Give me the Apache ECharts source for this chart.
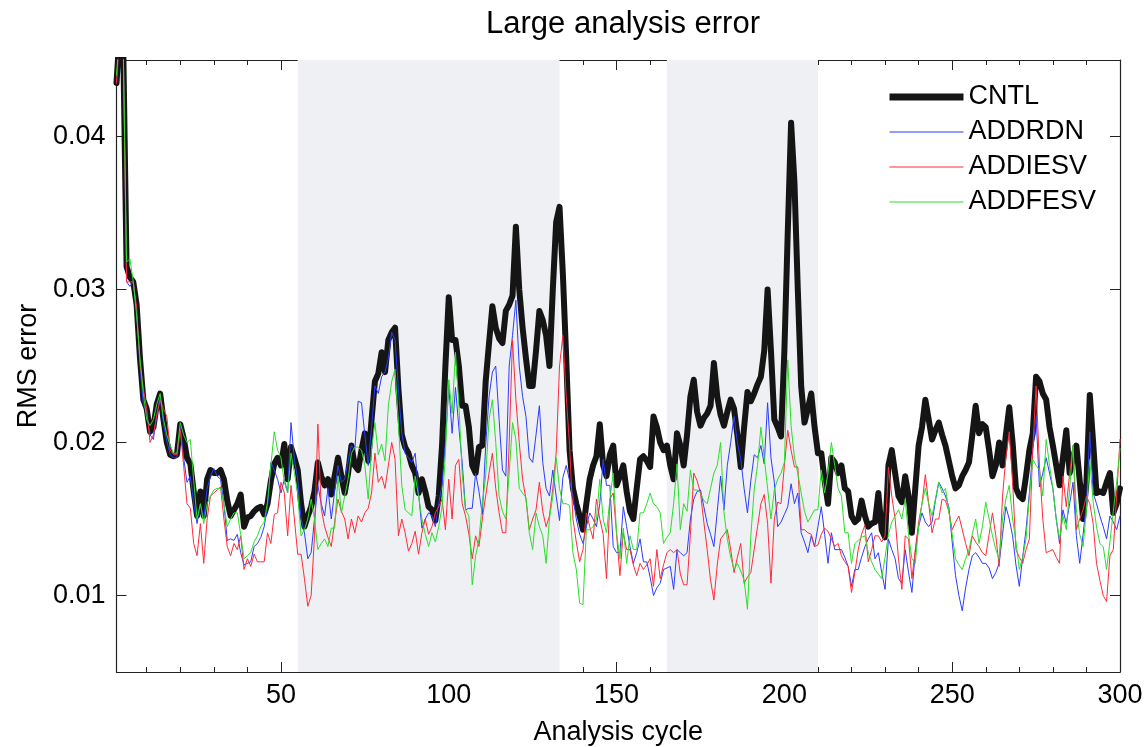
<!DOCTYPE html>
<html><head><meta charset="utf-8">
<script src="https://cdn.jsdelivr.net/npm/echarts@6/dist/echarts.min.js"></script>
<style>html,body{margin:0;padding:0;background:#fff}#c{width:1148px;height:747px}</style>
</head><body><div id="c"></div>
<script>
const seriesNames = ['CNTL', 'ADDRDN', 'ADDIESV', 'ADDFESV'];
const xMajorTicks = [50, 100, 150, 200, 250, 300];
const xMinorTicks = [10, 20, 30, 40, 50, 60, 70, 80, 90, 100, 110, 120, 130, 140, 150, 160, 170, 180, 190, 200, 210, 220, 230, 240, 250, 260, 270, 280, 290];
const yTicks = [0.01, 0.02, 0.03, 0.04];
const shadedPeriods = [[55, 133], [165, 210]];

const cntl = [
0.0435,0.047,0.046,0.0315,0.0308,0.0305,0.029,0.0255,0.0228,0.0222,
0.0207,0.021,0.0225,0.0232,0.0215,0.0200,0.0192,0.0191,0.0192,0.0212,
0.0203,0.0190,0.0186,0.0168,0.0152,0.0168,0.0152,0.0176,0.0182,0.0180,
0.0180,0.0182,0.0176,0.0162,0.0152,0.0156,0.0160,0.0166,0.0145,0.0151,
0.0152,0.0155,0.0157,0.0158,0.0153,0.0160,0.0175,0.0186,0.0190,0.0185,
0.0199,0.0176,0.0197,0.0190,0.0182,0.0160,0.0145,0.0152,0.0158,0.0168,
0.0187,0.0178,0.0172,0.0176,0.0166,0.0178,0.0190,0.0178,0.0167,0.0180,
0.0198,0.0185,0.0182,0.0195,0.0206,0.0188,0.0215,0.0240,0.0245,0.0259,
0.0246,0.0267,0.0272,0.0275,0.0235,0.0205,0.0197,0.0193,0.0185,0.0180,
0.0167,0.0176,0.0168,0.0158,0.0156,0.0149,0.0165,0.0198,0.0250,0.0295,
0.0267,0.0267,0.0250,0.0224,0.0224,0.0210,0.0185,0.0180,0.0197,0.0198,
0.0240,0.0265,0.0289,0.0275,0.0268,0.0265,0.0286,0.0290,0.0296,0.0341,
0.0300,0.0275,0.0255,0.0237,0.0237,0.0260,0.0286,0.0280,0.0270,0.0250,
0.0300,0.0344,0.0354,0.0310,0.0255,0.0195,0.0170,0.0160,0.0152,0.0143,
0.0160,0.0176,0.0185,0.0191,0.0212,0.0185,0.0178,0.0192,0.0198,0.0172,
0.0178,0.0185,0.0168,0.0155,0.0150,0.0170,0.0189,0.0191,0.0188,0.0184,
0.0217,0.0210,0.0200,0.0195,0.0198,0.0185,0.0176,0.0206,0.0198,0.0185,
0.0205,0.0230,0.0241,0.0220,0.0211,0.0216,0.0219,0.0224,0.0252,0.0230,
0.0218,0.0211,0.0220,0.0228,0.0222,0.0205,0.0184,0.0210,0.0233,0.0227,
0.0232,0.0238,0.0243,0.0260,0.0300,0.0260,0.0215,0.0210,0.0204,0.0260,
0.0337,0.0409,0.0370,0.0300,0.0237,0.0213,0.0222,0.0232,0.0210,0.0193,
0.0193,0.0175,0.0160,0.0190,0.0187,0.0180,0.0185,0.0170,0.0168,0.0152,
0.0148,0.0150,0.0162,0.0152,0.0145,0.0147,0.0148,0.0167,0.0143,0.0138,
0.0185,0.0195,0.0180,0.0165,0.0161,0.0178,0.0165,0.0141,0.0170,0.0198,
0.0210,0.0228,0.0215,0.0202,0.0208,0.0213,0.0205,0.0198,0.0188,0.0178,
0.0170,0.0172,0.0178,0.0182,0.0187,0.0205,0.0224,0.0206,0.0212,0.0210,
0.0195,0.0178,0.0185,0.0200,0.0185,0.0205,0.0223,0.0200,0.0170,0.0165,
0.0163,0.0178,0.0195,0.0206,0.0243,0.0240,0.0232,0.0228,0.0210,0.0198,
0.0185,0.0172,0.0190,0.0208,0.0180,0.0190,0.0198,0.0175,0.0150,0.0174,
0.0231,0.0200,0.0167,0.0168,0.0167,0.0174,0.0180,0.0154,0.0160,0.0170
];

const addrdn = [
0.0435,0.047,0.046,0.0305,0.0302,0.0305,0.0285,0.0250,0.0225,0.0220,
0.0205,0.0202,0.0218,0.0230,0.0212,0.0201,0.0192,0.0190,0.0190,0.0210,
0.0190,0.0174,0.0178,0.0160,0.0147,0.0160,0.0150,0.0170,0.0178,0.0183,
0.0178,0.0176,0.0160,0.0136,0.0137,0.0136,0.0140,0.0128,0.0120,0.0121,
0.0122,0.0132,0.0134,0.0138,0.0145,0.0158,0.0187,0.0182,0.0176,0.0167,
0.0176,0.0167,0.0213,0.0189,0.0176,0.0150,0.0141,0.0124,0.0128,0.0150,
0.0172,0.0160,0.0152,0.0170,0.0150,0.0168,0.0185,0.0174,0.0176,0.0188,
0.0198,0.0195,0.0227,0.0226,0.0205,0.0185,0.0210,0.0237,0.0232,0.0243,
0.0246,0.0255,0.0272,0.0267,0.0235,0.0206,0.0193,0.0190,0.0187,0.0193,
0.0167,0.0144,0.0150,0.0154,0.0152,0.0145,0.0160,0.0172,0.0200,0.0237,
0.0206,0.0236,0.0210,0.0187,0.0156,0.0157,0.0157,0.0180,0.0168,0.0153,
0.0198,0.0230,0.0246,0.0250,0.0215,0.0182,0.0178,0.0250,0.0270,0.0293,
0.0250,0.0230,0.0217,0.0190,0.0187,0.0205,0.0224,0.0187,0.0170,0.0165,
0.0182,0.0165,0.0149,0.0177,0.0185,0.0175,0.0165,0.0150,0.0140,0.0134,
0.0145,0.0154,0.0150,0.0145,0.0160,0.0189,0.0172,0.0172,0.0132,0.0128,
0.0128,0.0158,0.0145,0.0132,0.0121,0.0128,0.0137,0.0122,0.0122,0.0112,
0.0100,0.0105,0.0108,0.0117,0.0118,0.0119,0.0104,0.0130,0.0128,0.0126,
0.0128,0.0150,0.0163,0.0168,0.0169,0.0158,0.0147,0.0140,0.0132,0.0155,
0.0178,0.0156,0.0185,0.0200,0.0217,0.0200,0.0189,0.0170,0.0154,0.0175,
0.0192,0.0190,0.0198,0.0186,0.0226,0.0190,0.0174,0.0145,0.0148,0.0153,
0.0158,0.0173,0.0160,0.0167,0.0141,0.0135,0.0128,0.0139,0.0132,0.0145,
0.0158,0.0140,0.0121,0.0141,0.0130,0.0130,0.0130,0.0125,0.0119,0.0106,
0.0117,0.0117,0.0125,0.0132,0.0137,0.0141,0.0124,0.0128,0.0115,0.0104,
0.0137,0.0130,0.0124,0.0111,0.0108,0.0130,0.0115,0.0102,0.0128,0.0145,
0.0154,0.0148,0.0145,0.0148,0.0162,0.0174,0.0170,0.0165,0.0158,0.0135,
0.0113,0.0100,0.0090,0.0105,0.0117,0.0126,0.0128,0.0125,0.0121,0.0121,
0.0118,0.0111,0.0115,0.0121,0.0140,0.0158,0.0150,0.0139,0.0120,0.0106,
0.0125,0.0143,0.0167,0.0195,0.0217,0.0171,0.0180,0.0190,0.0180,0.0170,
0.0150,0.0134,0.0156,0.0147,0.0160,0.0174,0.0139,0.0121,0.0140,0.0160,
0.0207,0.0167,0.0160,0.0152,0.0145,0.0137,0.0152,0.0148,0.0143,0.0152
];

const addiesv = [
0.0435,0.047,0.046,0.0305,0.0305,0.0305,0.0288,0.0252,0.0235,0.0222,
0.0200,0.0205,0.0218,0.0228,0.0222,0.0217,0.0195,0.0192,0.0192,0.0208,
0.0185,0.0160,0.0157,0.0134,0.0126,0.0147,0.0121,0.0150,0.0165,0.0167,
0.0169,0.0171,0.0150,0.0132,0.0126,0.0134,0.0130,0.0139,0.0117,0.0124,
0.0119,0.0127,0.0122,0.0122,0.0122,0.0141,0.0134,0.0153,0.0154,0.0174,
0.0167,0.0139,0.0172,0.0150,0.0127,0.0127,0.0111,0.0093,0.0100,0.0139,
0.0212,0.0157,0.0145,0.0138,0.0132,0.0148,0.0163,0.0155,0.0150,0.0137,
0.0150,0.0141,0.0152,0.0148,0.0154,0.0157,0.0167,0.0193,0.0174,0.0178,
0.0170,0.0185,0.0200,0.0189,0.0139,0.0150,0.0141,0.0129,0.0134,0.0142,
0.0127,0.0141,0.0150,0.0140,0.0145,0.0154,0.0158,0.0163,0.0143,0.0176,
0.0150,0.0185,0.0189,0.0160,0.0152,0.0140,0.0124,0.0139,0.0132,0.0150,
0.0165,0.0180,0.0193,0.0170,0.0154,0.0141,0.0141,0.0200,0.0267,0.0228,
0.0200,0.0176,0.0163,0.0143,0.0150,0.0156,0.0174,0.0155,0.0145,0.0152,
0.0170,0.0193,0.0250,0.0270,0.0230,0.0198,0.0150,0.0135,0.0122,0.0130,
0.0154,0.0145,0.0137,0.0163,0.0150,0.0140,0.0111,0.0163,0.0167,0.0140,
0.0113,0.0141,0.0130,0.0130,0.0120,0.0113,0.0121,0.0117,0.0120,0.0124,
0.0106,0.0130,0.0111,0.0120,0.0128,0.0130,0.0128,0.0130,0.0114,0.0107,
0.0107,0.0140,0.0180,0.0175,0.0167,0.0148,0.0130,0.0110,0.0097,0.0120,
0.0137,0.0140,0.0143,0.0130,0.0115,0.0125,0.0134,0.0108,0.0112,0.0115,
0.0130,0.0145,0.0160,0.0166,0.0147,0.0108,0.0150,0.0161,0.0160,0.0185,
0.0208,0.0195,0.0184,0.0184,0.0143,0.0143,0.0141,0.0140,0.0132,0.0133,
0.0140,0.0144,0.0142,0.0137,0.0132,0.0134,0.0126,0.0122,0.0119,0.0102,
0.0115,0.0130,0.0140,0.0146,0.0122,0.0130,0.0139,0.0139,0.0135,0.0139,
0.0184,0.0165,0.0150,0.0124,0.0104,0.0139,0.0137,0.0111,0.0130,0.0148,
0.0160,0.0179,0.0160,0.0141,0.0150,0.0150,0.0163,0.0162,0.0155,0.0143,
0.0148,0.0152,0.0143,0.0134,0.0126,0.0139,0.0135,0.0132,0.0128,0.0126,
0.0140,0.0154,0.0139,0.0119,0.0165,0.0190,0.0207,0.0174,0.0130,0.0125,
0.0121,0.0130,0.0137,0.0195,0.0237,0.0185,0.0150,0.0128,0.0129,0.0130,
0.0125,0.0121,0.0178,0.0158,0.0180,0.0198,0.0143,0.0150,0.0156,0.0165,
0.0160,0.0147,0.0121,0.0110,0.0100,0.0096,0.0126,0.0130,0.0165,0.0202
];

const addfesv = [
0.0440,0.047,0.046,0.0318,0.0320,0.0305,0.0283,0.0255,0.0232,0.0215,
0.0211,0.0215,0.0225,0.0232,0.0215,0.0205,0.0198,0.0193,0.0193,0.0213,
0.0205,0.0200,0.0202,0.0175,0.0150,0.0160,0.0147,0.0160,0.0165,0.0169,
0.0170,0.0170,0.0160,0.0145,0.0150,0.0154,0.0154,0.0140,0.0124,0.0126,
0.0128,0.0135,0.0139,0.0145,0.0148,0.0161,0.0185,0.0207,0.0195,0.0190,
0.0174,0.0167,0.0193,0.0180,0.0167,0.0139,0.0143,0.0150,0.0163,0.0150,
0.0130,0.0134,0.0137,0.0132,0.0144,0.0144,0.0178,0.0154,0.0165,0.0176,
0.0193,0.0197,0.0197,0.0195,0.0185,0.0163,0.0196,0.0213,0.0192,0.0199,
0.0188,0.0224,0.0240,0.0248,0.0213,0.0172,0.0156,0.0154,0.0152,0.0178,
0.0165,0.0150,0.0140,0.0132,0.0141,0.0135,0.0145,0.0158,0.0193,0.0241,
0.0219,0.0259,0.0225,0.0180,0.0156,0.0152,0.0107,0.0126,0.0137,0.0160,
0.0178,0.0215,0.0228,0.0200,0.0165,0.0155,0.0150,0.0180,0.0213,0.0202,
0.0170,0.0167,0.0164,0.0141,0.0130,0.0154,0.0145,0.0139,0.0121,0.0150,
0.0165,0.0190,0.0170,0.0160,0.0160,0.0159,0.0128,0.0117,0.0095,0.0094,
0.0143,0.0143,0.0145,0.0150,0.0176,0.0150,0.0141,0.0163,0.0180,0.0141,
0.0124,0.0144,0.0121,0.0139,0.0130,0.0130,0.0154,0.0154,0.0160,0.0167,
0.0160,0.0158,0.0154,0.0134,0.0138,0.0141,0.0160,0.0186,0.0143,0.0160,
0.0155,0.0182,0.0169,0.0169,0.0167,0.0162,0.0160,0.0170,0.0180,0.0185,
0.0200,0.0154,0.0137,0.0125,0.0117,0.0121,0.0116,0.0110,0.0091,0.0139,
0.0169,0.0185,0.0210,0.0190,0.0170,0.0150,0.0169,0.0176,0.0180,0.0187,
0.0254,0.0211,0.0190,0.0180,0.0167,0.0155,0.0148,0.0152,0.0156,0.0156,
0.0182,0.0167,0.0180,0.0200,0.0185,0.0170,0.0165,0.0141,0.0141,0.0121,
0.0134,0.0136,0.0138,0.0139,0.0128,0.0122,0.0117,0.0114,0.0111,0.0125,
0.0140,0.0148,0.0152,0.0156,0.0150,0.0163,0.0140,0.0124,0.0121,0.0145,
0.0160,0.0170,0.0160,0.0152,0.0163,0.0174,0.0167,0.0170,0.0155,0.0140,
0.0124,0.0120,0.0117,0.0124,0.0130,0.0140,0.0150,0.0134,0.0145,0.0161,
0.0150,0.0139,0.0130,0.0124,0.0150,0.0163,0.0172,0.0150,0.0135,0.0117,
0.0125,0.0137,0.0165,0.0189,0.0185,0.0182,0.0165,0.0202,0.0185,0.0170,
0.0150,0.0137,0.0152,0.0143,0.0170,0.0198,0.0156,0.0140,0.0132,0.0156,
0.0189,0.0161,0.0145,0.0134,0.0132,0.0117,0.0135,0.0155,0.0174,0.0196
];

const seriesValues = [cntl, addrdn, addiesv, addfesv];
const seriesColors = ['#151515', '#2a3bff', '#ff2a3a', '#2ade2a'];
const seriesWidths = [6, 1, 1, 1];

const FONT = 'Liberation Sans, Arial, Helvetica, sans-serif';
const X_MIN = 1, X_MAX = 300, Y_MIN = 0.005, Y_MAX = 0.045;
const axisColor = '#222';

function toPairs(arr) { return arr.map((v, i) => [i + 1, v]); }

const chart = echarts.init(document.getElementById('c'), null, { renderer: 'canvas' });

const baseX = { type: 'value', min: X_MIN, max: X_MAX, gridIndex: 0, splitLine: { show: false } };
const baseY = { type: 'value', min: Y_MIN, max: Y_MAX, gridIndex: 0, splitLine: { show: false } };

const series = [{
  name: '__shade', type: 'line', data: [], silent: true, z: 1,
  markArea: {
    silent: true,
    itemStyle: { color: '#eff0f3' },
    data: shadedPeriods.map(p => [{ xAxis: p[0] }, { xAxis: p[1] }])
  }
}];
seriesNames.forEach((n, i) => {
  series.push({
    name: n, type: 'line', data: toPairs(seriesValues[i]),
    xAxisIndex: 0, yAxisIndex: 0,
    symbol: 'none', showSymbol: false, smooth: false, clip: true,
    lineStyle: { color: seriesColors[i], width: seriesWidths[i], join: 'round', cap: 'round' },
    itemStyle: { color: seriesColors[i] },
    emphasis: { disabled: true },
    z: 2 + i
  });
});

chart.setOption({
  animation: false,
  backgroundColor: '#ffffff',
  title: {
    text: 'Large analysis error', left: 618, top: 4, textAlign: 'center',
    textStyle: { fontFamily: FONT, fontSize: 31, fontWeight: 'normal', color: '#000' }
  },
  grid: { left: 116.5, right: 28, top: 60, bottom: 75, containLabel: false, outerBoundsMode: 'none' },
  legend: {
    data: seriesNames.map((n, i) => ({
      name: n,
      lineStyle: { width: i === 0 ? 7 : 1.2, color: seriesColors[i], cap: 'butt' },
      itemStyle: { color: 'rgba(0,0,0,0)', borderColor: 'rgba(0,0,0,0)', borderWidth: 0, opacity: 0 }
    })),
    orient: 'vertical', left: 886, top: 83, padding: 0,
    itemWidth: 74, itemHeight: 14, itemGap: 7,
    textStyle: { fontFamily: FONT, fontSize: 27, color: '#000', lineHeight: 28 },
    selectedMode: false
  },
  xAxis: [
    Object.assign({}, baseX, {
      position: 'bottom',
      name: 'Analysis cycle', nameLocation: 'middle', nameGap: 47,
      nameTextStyle: { fontFamily: FONT, fontSize: 27, color: '#000' },
      axisLine: { show: true, onZero: false, lineStyle: { color: axisColor, width: 1.2 } },
      axisTick: { show: true, inside: true, length: 10, customValues: xMajorTicks, lineStyle: { color: axisColor } },
      axisLabel: { show: true, customValues: xMajorTicks, margin: 10, fontFamily: FONT, fontSize: 27, color: '#000' }
    }),
    Object.assign({}, baseX, {
      position: 'bottom',
      axisLine: { show: false, onZero: false },
      axisTick: { show: true, inside: true, length: 5, customValues: xMinorTicks, lineStyle: { color: axisColor } },
      axisLabel: { show: false }
    }),
    Object.assign({}, baseX, {
      position: 'top',
      axisLine: { show: true, onZero: false, lineStyle: { color: axisColor, width: 1.2 } },
      axisTick: { show: true, inside: true, length: 10, customValues: xMajorTicks, lineStyle: { color: axisColor } },
      axisLabel: { show: false }
    }),
    Object.assign({}, baseX, {
      position: 'top',
      axisLine: { show: false, onZero: false },
      axisTick: { show: true, inside: true, length: 5, customValues: xMinorTicks, lineStyle: { color: axisColor } },
      axisLabel: { show: false }
    })
  ],
  yAxis: [
    Object.assign({}, baseY, {
      position: 'left',
      name: 'RMS error', nameLocation: 'middle', nameGap: 74, nameRotate: 90,
      nameTextStyle: { fontFamily: FONT, fontSize: 27, color: '#000' },
      axisLine: { show: true, onZero: false, lineStyle: { color: axisColor, width: 1.2 } },
      axisTick: { show: true, inside: true, length: 10, customValues: yTicks, lineStyle: { color: axisColor } },
      axisLabel: { show: true, customValues: yTicks, margin: 11, fontFamily: FONT, fontSize: 27, color: '#000',
        formatter: v => v.toFixed(2) }
    }),
    Object.assign({}, baseY, {
      position: 'right',
      axisLine: { show: true, onZero: false, lineStyle: { color: axisColor, width: 1.2 } },
      axisTick: { show: true, inside: true, length: 10, customValues: yTicks, lineStyle: { color: axisColor } },
      axisLabel: { show: false }
    })
  ],
  series: series
});
</script>
</body></html>
